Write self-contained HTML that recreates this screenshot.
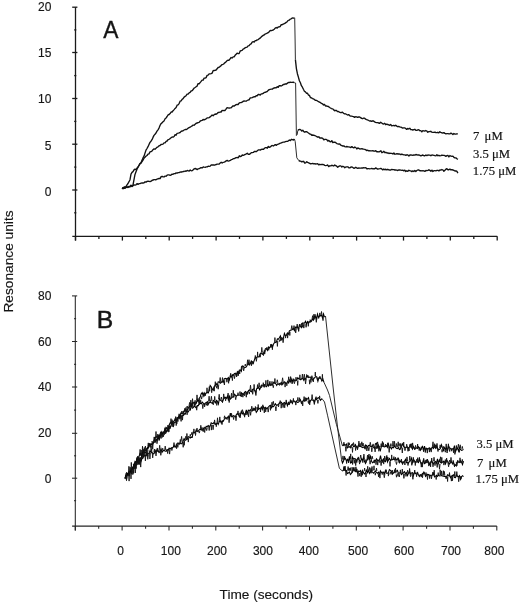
<!DOCTYPE html>
<html><head><meta charset="utf-8"><style>
html,body{margin:0;padding:0;background:#fff;}
svg{display:block;}
.ax path{stroke:#1a1a1a;stroke-width:1.3;fill:none;}
.cv path{stroke:#111;stroke-width:1.35;fill:none;stroke-linejoin:round;}
.cvb path{stroke:#000;stroke-width:1.1;fill:none;stroke-linejoin:miter;}
.dr path{stroke:#222;stroke-width:0.95;fill:none;}
.axb path{stroke:#262626;stroke-width:1.05;}
.spk path{stroke:#111;stroke-width:0.9;fill:none;stroke-linejoin:miter;}
.sans{font-family:"Liberation Sans",Arial,sans-serif;fill:#151515;stroke:#151515;stroke-width:0.15;}
.serif{font-family:"Liberation Serif","Times New Roman",serif;fill:#151515;stroke:#151515;stroke-width:0.2;}
</style></head><body>
<svg width="520" height="604" viewBox="0 0 520 604">
<rect width="520" height="604" fill="#fff"/>
<g class="ax">
<path d="M75.5 7.2V240.60000000000002M72.3 236.3H497.2" />
<path d="M72.2 7.2H77.4" />
<path d="M72.2 52.5H77.4" />
<path d="M72.2 98.5H77.4" />
<path d="M72.2 144.2H77.4" />
<path d="M72.2 190.0H77.4" />
<path d="M74.2 29.9H76.3" />
<path d="M74.2 75.6H76.3" />
<path d="M74.2 121.4H76.3" />
<path d="M74.2 167.1H76.3" />
<path d="M74.2 212.8H76.3" />
<path d="M75.5 236.3v4.3" />
<path d="M98.9 236.3v2.6" />
<path d="M122.4 236.3v4.3" />
<path d="M145.8 236.3v2.6" />
<path d="M169.2 236.3v4.3" />
<path d="M192.6 236.3v2.6" />
<path d="M216.1 236.3v4.3" />
<path d="M239.5 236.3v2.6" />
<path d="M262.9 236.3v4.3" />
<path d="M286.4 236.3v2.6" />
<path d="M309.8 236.3v4.3" />
<path d="M333.2 236.3v2.6" />
<path d="M356.6 236.3v4.3" />
<path d="M380.1 236.3v2.6" />
<path d="M403.5 236.3v4.3" />
<path d="M426.9 236.3v2.6" />
<path d="M450.3 236.3v4.3" />
<path d="M473.8 236.3v2.6" />
<path d="M497.2 236.3v4.3" />
</g>
<g class="ax axb">
<path d="M75.3 295.9V530.4M72.1 526.1H496.8" />
<path d="M72.0 295.9H77.2" />
<path d="M72.0 341.5H77.2" />
<path d="M72.0 387.0H77.2" />
<path d="M72.0 433.3H77.2" />
<path d="M72.0 478.2H77.2" />
<path d="M74.0 318.7H76.1" />
<path d="M74.0 364.3H76.1" />
<path d="M74.0 410.1H76.1" />
<path d="M74.0 455.8H76.1" />
<path d="M74.0 500.7H76.1" />
<path d="M75.3 526.1v4.3" />
<path d="M98.7 526.1v2.6" />
<path d="M122.1 526.1v4.3" />
<path d="M145.6 526.1v2.6" />
<path d="M169.0 526.1v4.3" />
<path d="M192.4 526.1v2.6" />
<path d="M215.8 526.1v4.3" />
<path d="M239.2 526.1v2.6" />
<path d="M262.6 526.1v4.3" />
<path d="M286.1 526.1v2.6" />
<path d="M309.5 526.1v4.3" />
<path d="M332.9 526.1v2.6" />
<path d="M356.3 526.1v4.3" />
<path d="M379.7 526.1v2.6" />
<path d="M403.1 526.1v4.3" />
<path d="M426.6 526.1v2.6" />
<path d="M450.0 526.1v4.3" />
<path d="M473.4 526.1v2.6" />
<path d="M496.8 526.1v4.3" />
</g>
<g class="cv">
<path d="M122.0 188.0L123.0 188.6L124.0 188.4L125.0 187.5L126.0 187.5L127.0 187.2L128.0 187.5L129.0 186.9L130.0 186.9L131.0 185.5L132.0 186.6L133.0 184.9L134.0 179.7L135.0 174.4L136.0 171.8L137.0 169.3L138.0 167.3L139.0 165.3L140.0 163.9L141.0 162.7L142.0 160.2L143.0 157.9L144.0 156.2L145.0 153.1L146.0 150.1L147.0 148.5L148.0 146.7L149.0 144.5L150.0 142.4L151.0 141.2L152.0 139.7L153.0 137.4L154.0 135.4L155.0 134.3L156.0 133.0L157.0 131.1L158.0 129.8L159.0 128.1L160.0 125.5L161.0 123.7L162.0 122.9L163.0 121.7L164.0 121.0L165.1 118.8L166.1 117.9L167.1 116.5L168.1 114.9L169.1 114.5L170.1 113.6L171.1 112.0L172.1 112.0L173.1 110.7L174.1 109.6L175.1 108.4L176.1 107.5L177.1 105.2L178.1 104.8L179.1 103.6L180.1 101.2L181.1 100.8L182.1 99.3L183.1 98.7L184.1 97.1L185.1 96.4L186.1 95.7L187.1 94.2L188.1 94.1L189.1 92.9L190.1 92.4L191.1 91.0L192.1 90.7L193.1 89.5L194.1 88.1L195.1 87.5L196.1 86.8L197.1 86.1L198.1 83.6L199.1 83.8L200.1 82.6L201.1 81.4L202.1 80.1L203.1 80.2L204.1 78.1L205.1 78.1L206.1 77.6L207.1 75.4L208.1 75.2L209.1 73.9L210.1 73.9L211.1 73.7L212.1 73.2L213.1 70.7L214.1 70.5L215.1 70.4L216.1 70.0L217.1 68.8L218.1 67.5L219.1 67.3L220.1 66.4L221.1 65.6L222.1 64.6L223.1 64.3L224.1 63.6L225.1 62.6L226.1 61.8L227.1 60.6L228.1 60.2L229.1 60.2L230.1 58.8L231.1 57.5L232.1 58.0L233.1 56.9L234.1 56.9L235.1 55.3L236.1 54.3L237.1 53.1L238.1 53.6L239.1 53.5L240.1 51.2L241.1 50.6L242.1 50.4L243.1 49.1L244.1 48.6L245.1 47.8L246.1 47.4L247.1 47.1L248.1 45.9L249.1 45.6L250.1 44.3L251.1 43.9L252.2 42.1L253.2 41.7L254.2 42.0L255.2 40.7L256.2 40.6L257.2 39.9L258.2 39.6L259.2 38.7L260.2 38.1L261.2 37.0L262.2 36.1L263.2 35.4L264.2 34.9L265.2 33.9L266.2 33.6L267.2 33.2L268.2 32.7L269.2 31.8L270.2 30.5L271.2 30.7L272.2 30.3L273.2 30.0L274.2 29.2L275.2 28.1L276.2 27.5L277.2 28.1L278.2 27.0L279.2 26.9L280.2 26.5L281.2 24.7L282.2 24.7L283.2 24.2L284.2 23.7L285.2 23.1L286.2 22.4L287.2 21.7L288.2 20.3L289.2 20.2L290.2 19.1L291.2 18.8L292.2 18.0L293.2 18.2L294.2 18.0M295.4 59.7L296.4 68.6L297.4 73.7L298.4 77.1L299.4 80.8L300.4 82.8L301.4 85.7L302.4 87.2L303.4 89.3L304.4 91.2L305.4 91.9L306.4 93.2L307.4 93.2L308.4 95.0L309.4 95.4L310.4 97.5L311.4 97.8L312.5 98.6L313.5 98.8L314.5 99.7L315.5 100.3L316.5 100.4L317.5 101.0L318.5 101.7L319.5 102.1L320.5 102.7L321.5 103.4L322.5 103.8L323.5 105.0L324.5 104.4L325.5 106.0L326.5 105.9L327.5 106.4L328.5 106.5L329.5 107.5L330.5 108.0L331.5 108.6L332.5 108.8L333.5 109.5L334.5 110.7L335.5 110.5L336.5 110.5L337.5 111.6L338.5 111.5L339.5 112.2L340.5 112.6L341.5 112.5L342.5 112.1L343.5 113.2L344.6 113.9L345.6 113.8L346.6 114.5L347.6 115.0L348.6 114.6L349.6 115.6L350.6 116.1L351.6 116.1L352.6 116.4L353.6 116.6L354.6 117.4L355.6 116.7L356.6 116.9L357.6 117.4L358.6 117.0L359.6 117.0L360.6 117.6L361.6 118.4L362.6 118.7L363.6 118.1L364.6 118.2L365.6 119.2L366.6 119.6L367.6 119.9L368.6 120.5L369.6 121.0L370.6 120.8L371.6 121.3L372.6 120.8L373.6 121.0L374.6 121.9L375.6 122.3L376.6 122.6L377.7 122.7L378.7 123.0L379.7 123.3L380.7 122.3L381.7 123.0L382.7 123.8L383.7 124.0L384.7 123.3L385.7 124.7L386.7 124.2L387.7 124.5L388.7 124.9L389.7 125.3L390.7 124.5L391.7 125.8L392.7 125.6L393.7 125.4L394.7 125.9L395.7 125.2L396.7 126.1L397.7 126.7L398.7 126.5L399.7 126.9L400.7 127.2L401.7 127.5L402.7 128.1L403.7 127.8L404.7 127.9L405.7 128.5L406.7 129.4L407.7 128.4L408.7 129.0L409.8 128.2L410.8 129.7L411.8 129.6L412.8 130.0L413.8 129.6L414.8 129.3L415.8 130.3L416.8 130.4L417.8 129.8L418.8 129.7L419.8 130.7L420.8 130.6L421.8 131.9L422.8 130.6L423.8 130.8L424.8 131.1L425.8 130.5L426.8 131.0L427.8 132.3L428.8 131.6L429.8 131.5L430.8 131.3L431.8 132.2L432.8 132.4L433.8 132.3L434.8 132.1L435.8 132.5L436.8 132.6L437.8 132.3L438.8 132.9L439.8 131.8L440.8 132.3L441.9 132.8L442.9 133.0L443.9 132.6L444.9 133.4L445.9 133.8L446.9 133.6L447.9 133.6L448.9 133.9L449.9 133.8L450.9 133.2L451.9 133.7L452.9 134.5L453.9 133.5L454.9 134.1L455.9 134.0L456.9 133.8L457.9 133.8" />
<path d="M122.0 188.0L123.0 188.6L124.0 187.0L125.0 188.4L126.0 186.6L127.0 184.8L128.0 183.5L129.0 181.7L130.0 179.7L131.0 174.1L132.0 172.4L133.0 171.6L134.0 169.9L135.0 169.1L136.0 169.6L137.0 168.0L138.0 167.1L139.0 165.5L140.0 163.4L141.0 163.2L142.0 161.6L143.0 160.1L144.0 158.2L145.0 157.3L146.0 156.1L147.0 155.5L148.0 154.1L149.0 153.9L150.0 151.9L151.0 151.7L152.0 151.0L153.0 149.7L154.0 148.9L155.0 149.2L156.0 148.3L157.0 147.3L158.0 146.9L159.0 145.8L160.0 145.5L161.0 144.5L162.0 144.3L163.0 144.1L164.0 142.9L165.1 142.8L166.1 141.3L167.1 141.0L168.1 139.6L169.1 139.3L170.1 138.6L171.1 137.7L172.1 137.0L173.1 137.1L174.1 136.5L175.1 134.7L176.1 135.2L177.1 133.3L178.1 133.2L179.1 132.9L180.1 132.5L181.1 131.4L182.1 131.0L183.1 130.8L184.1 130.0L185.1 129.5L186.1 129.5L187.1 129.1L188.1 128.2L189.1 127.7L190.1 127.2L191.1 126.5L192.1 125.9L193.1 125.1L194.1 125.2L195.1 124.2L196.1 123.4L197.1 123.0L198.1 122.6L199.1 122.4L200.1 121.2L201.1 120.6L202.1 120.4L203.1 119.4L204.1 119.9L205.1 119.3L206.1 118.8L207.1 117.9L208.1 117.9L209.1 117.6L210.1 116.9L211.1 116.0L212.1 115.0L213.1 115.7L214.1 114.7L215.1 114.0L216.1 114.3L217.1 113.6L218.1 112.4L219.1 112.5L220.1 112.0L221.1 112.1L222.1 110.4L223.1 110.6L224.1 110.3L225.1 110.5L226.1 109.0L227.1 107.7L228.1 107.9L229.1 108.2L230.1 107.9L231.1 107.9L232.1 106.8L233.1 105.8L234.1 106.1L235.1 105.3L236.1 104.7L237.1 104.4L238.1 104.5L239.1 103.1L240.1 102.6L241.1 102.6L242.1 102.2L243.1 101.4L244.1 101.0L245.1 101.1L246.1 101.2L247.1 100.5L248.1 100.0L249.1 99.9L250.1 98.0L251.1 97.8L252.2 97.7L253.2 97.1L254.2 96.7L255.2 96.8L256.2 95.7L257.2 95.7L258.2 94.5L259.2 94.5L260.2 95.1L261.2 93.8L262.2 93.8L263.2 93.4L264.2 92.4L265.2 92.4L266.2 91.8L267.2 91.5L268.2 90.4L269.2 89.6L270.2 89.3L271.2 89.1L272.2 89.2L273.2 88.4L274.2 88.0L275.2 87.7L276.2 87.9L277.2 86.7L278.2 87.3L279.2 85.7L280.2 85.7L281.2 86.0L282.2 85.5L283.2 84.5L284.2 84.5L285.2 83.8L286.2 84.1L287.2 83.4L288.2 82.4L289.2 82.6L290.2 82.1L291.2 82.3L292.2 82.4L293.2 82.1L294.2 82.7M297.8 130.5L298.8 129.6L299.8 129.4L300.8 129.8L301.8 131.1L302.8 130.2L303.8 131.7L304.8 132.2L305.8 131.7L306.8 131.7L307.8 132.5L308.8 133.2L309.8 134.1L310.8 134.2L311.8 135.3L312.8 135.0L313.8 135.4L314.8 135.5L315.8 136.0L316.8 136.7L317.8 137.2L318.8 136.8L319.8 138.0L320.8 137.9L321.8 138.0L322.8 138.3L323.8 139.9L324.8 139.4L325.8 139.3L326.8 139.6L327.8 141.1L328.8 140.4L329.8 141.5L330.8 141.9L331.8 140.6L332.8 142.6L333.8 142.2L334.8 142.2L335.8 142.7L336.8 143.6L337.8 143.8L338.8 144.2L339.8 144.0L340.8 145.2L341.8 145.6L342.8 146.0L343.8 145.9L344.8 146.6L345.8 146.9L346.8 146.5L347.8 146.9L348.8 146.9L349.8 147.2L350.8 147.5L351.8 146.6L352.8 147.4L353.8 147.9L354.8 147.0L355.8 147.5L356.8 149.0L357.8 148.0L358.8 148.4L359.8 149.0L360.8 148.8L361.8 148.7L362.8 149.0L363.8 149.2L364.8 149.3L365.8 149.8L366.8 150.6L367.8 150.2L368.8 150.9L369.8 150.7L370.8 150.8L371.8 150.9L372.8 150.6L373.8 151.1L374.8 151.2L375.8 150.7L376.8 151.7L377.9 151.7L378.9 151.8L379.9 151.5L380.9 150.7L381.9 152.7L382.9 152.1L383.9 151.3L384.9 152.7L385.9 152.3L386.9 153.0L387.9 152.8L388.9 153.5L389.9 153.2L390.9 153.3L391.9 153.4L392.9 154.0L393.9 153.0L394.9 154.2L395.9 154.1L396.9 153.6L397.9 154.0L398.9 153.8L399.9 154.2L400.9 154.7L401.9 154.0L402.9 154.7L403.9 154.9L404.9 154.9L405.9 155.4L406.9 154.7L407.9 155.1L408.9 156.0L409.9 155.0L410.9 154.9L411.9 155.1L412.9 155.4L413.9 154.9L414.9 155.1L415.9 154.5L416.9 154.9L417.9 155.0L418.9 154.9L419.9 155.3L420.9 155.9L421.9 155.4L422.9 155.0L423.9 155.7L424.9 155.7L425.9 155.0L426.9 155.6L427.9 155.0L428.9 155.2L429.9 155.1L430.9 155.8L431.9 155.0L432.9 155.2L433.9 155.4L434.9 155.7L435.9 155.8L436.9 154.7L437.9 155.7L438.9 155.3L439.9 155.8L440.9 155.7L441.9 155.1L442.9 155.4L443.9 155.3L444.9 155.7L445.9 156.3L446.9 155.7L447.9 155.4L448.9 157.0L449.9 155.5L450.9 156.2L451.9 156.4L452.9 156.1L453.9 157.3L454.9 157.9L455.9 157.9L456.9 158.7L457.9 159.4" />
<path d="M122.0 188.0L123.0 187.9L124.0 187.8L125.0 186.8L126.0 187.3L127.0 186.8L128.0 186.8L129.0 186.4L130.0 186.5L131.0 185.3L132.0 186.3L133.0 185.8L134.0 184.8L135.0 185.1L136.0 184.8L137.0 183.6L138.0 184.4L139.0 183.7L140.0 183.6L141.0 183.2L142.0 183.0L143.0 183.0L144.1 182.8L145.1 181.8L146.1 182.1L147.1 181.4L148.1 181.2L149.1 181.3L150.1 181.6L151.1 181.2L152.1 180.4L153.1 180.0L154.1 179.6L155.1 179.7L156.1 179.7L157.1 179.0L158.1 178.9L159.1 178.4L160.1 178.6L161.1 176.6L162.1 176.3L163.1 176.8L164.1 176.9L165.1 176.1L166.1 176.2L167.1 175.2L168.1 174.9L169.1 174.9L170.1 175.3L171.1 175.0L172.1 174.1L173.1 174.3L174.1 173.6L175.1 173.7L176.1 172.9L177.1 173.1L178.1 172.6L179.1 172.6L180.1 172.1L181.1 171.8L182.1 172.0L183.1 171.5L184.1 171.5L185.1 171.0L186.1 171.3L187.2 170.4L188.2 170.9L189.2 171.0L190.2 170.0L191.2 170.8L192.2 170.7L193.2 169.8L194.2 168.8L195.2 168.5L196.2 168.9L197.2 169.6L198.2 168.8L199.2 168.7L200.2 168.0L201.2 167.6L202.2 167.9L203.2 167.0L204.2 167.2L205.2 167.3L206.2 166.9L207.2 166.9L208.2 166.2L209.2 166.4L210.2 166.1L211.2 164.9L212.2 165.0L213.2 164.8L214.2 165.2L215.2 164.8L216.2 164.5L217.2 164.2L218.2 164.1L219.2 164.0L220.2 163.0L221.2 162.2L222.2 163.0L223.2 162.3L224.2 162.1L225.2 161.6L226.2 160.9L227.2 160.4L228.2 161.1L229.2 160.8L230.3 160.4L231.3 159.7L232.3 159.4L233.3 158.7L234.3 158.6L235.3 158.0L236.3 157.6L237.3 157.5L238.3 157.8L239.3 155.8L240.3 156.6L241.3 156.2L242.3 155.0L243.3 155.3L244.3 154.9L245.3 154.3L246.3 153.9L247.3 153.2L248.3 154.3L249.3 154.3L250.3 153.7L251.3 152.6L252.3 152.6L253.3 152.4L254.3 151.5L255.3 151.5L256.3 151.6L257.3 150.8L258.3 149.9L259.3 149.8L260.3 150.1L261.3 149.4L262.3 149.1L263.3 149.4L264.3 148.4L265.3 147.7L266.3 147.6L267.3 148.2L268.3 146.4L269.3 147.4L270.3 146.9L271.3 145.9L272.3 145.5L273.4 146.0L274.4 145.2L275.4 144.6L276.4 145.4L277.4 144.3L278.4 144.1L279.4 143.6L280.4 143.1L281.4 142.9L282.4 142.3L283.4 142.2L284.4 142.1L285.4 141.7L286.4 141.4L287.4 141.3L288.4 140.8L289.4 140.0L290.4 140.6L291.4 139.3L292.4 139.6L293.4 140.0L294.4 139.0M298.7 160.4L299.7 161.1L300.7 161.2L301.7 161.8L302.7 161.5L303.7 161.3L304.7 163.1L305.7 162.8L306.7 161.8L307.7 162.4L308.7 162.8L309.7 163.3L310.7 163.9L311.7 163.6L312.7 163.4L313.7 163.9L314.7 163.7L315.7 164.0L316.7 163.8L317.7 163.7L318.7 164.9L319.7 164.3L320.7 164.6L321.7 164.4L322.7 164.5L323.7 164.7L324.7 165.3L325.7 165.6L326.7 165.4L327.7 165.0L328.7 166.6L329.7 165.8L330.7 165.9L331.7 165.3L332.7 165.5L333.7 166.0L334.7 165.0L335.7 165.6L336.7 166.2L337.7 167.2L338.8 166.4L339.8 165.9L340.8 165.9L341.8 167.0L342.8 166.3L343.8 166.6L344.8 167.7L345.8 167.0L346.8 166.9L347.8 166.8L348.8 167.8L349.8 167.9L350.8 167.1L351.8 166.9L352.8 167.5L353.8 168.3L354.8 168.0L355.8 167.3L356.8 168.0L357.8 168.3L358.8 168.0L359.8 168.2L360.8 168.1L361.8 168.0L362.8 168.0L363.8 167.7L364.8 167.8L365.8 167.6L366.8 168.7L367.8 168.7L368.8 168.6L369.8 168.8L370.8 168.7L371.8 168.4L372.8 168.8L373.8 168.7L374.8 168.7L375.8 167.9L376.8 168.7L377.8 169.2L378.8 168.9L379.8 168.7L380.8 168.4L381.8 168.9L382.8 169.9L383.8 169.0L384.8 169.8L385.8 169.2L386.8 169.9L387.8 169.3L388.8 169.8L389.8 170.0L390.8 170.0L391.8 169.4L392.8 169.7L393.8 169.6L394.8 170.0L395.8 170.0L396.8 170.1L397.8 170.5L398.8 169.9L399.8 170.0L400.8 170.2L401.8 170.4L402.8 170.2L403.8 170.8L404.8 170.2L405.8 171.5L406.8 170.8L407.8 171.3L408.8 170.3L409.8 170.7L410.8 170.9L411.8 171.6L412.8 170.9L413.8 171.5L414.8 170.5L415.8 171.5L416.8 170.5L417.8 170.0L418.9 169.9L419.9 170.8L420.9 170.6L421.9 170.8L422.9 170.7L423.9 170.9L424.9 171.4L425.9 170.5L426.9 170.7L427.9 170.4L428.9 169.8L429.9 170.4L430.9 171.2L431.9 170.1L432.9 171.5L433.9 170.7L434.9 170.6L435.9 170.8L436.9 170.4L437.9 170.3L438.9 170.9L439.9 169.9L440.9 170.1L441.9 169.5L442.9 170.0L443.9 171.2L444.9 170.3L445.9 169.2L446.9 168.7L447.9 169.7L448.9 169.7L449.9 169.1L450.9 169.9L451.9 169.6L452.9 170.0L453.9 170.4L454.9 171.0L455.9 170.8L456.9 171.4L457.9 173.2" />
</g>
<g class="cvb">
<path d="M125.0 478.5L126.0 474.2L127.0 476.0L128.0 474.5L129.0 471.6L130.0 470.9L131.0 471.1L132.0 468.7L133.0 466.7L134.0 465.2L135.0 461.6L136.0 462.5L137.0 457.7L138.0 458.0L139.0 456.5L140.0 453.5L141.0 454.4L142.0 455.6L143.0 451.9L144.0 449.7L145.1 450.1L146.1 450.3L147.1 448.3L148.1 446.9L149.1 444.0L150.1 445.3L151.1 444.3L152.1 444.4L153.1 443.6L154.1 441.6L155.1 437.7L156.1 437.1L157.1 436.6L158.1 437.4L159.1 435.1L160.1 436.9L161.1 434.6L162.1 433.8L163.1 433.3L164.1 431.7L165.1 428.5L166.1 432.4L167.1 430.1L168.1 429.2L169.1 425.2L170.1 422.8L171.1 422.3L172.1 421.9L173.1 423.4L174.1 422.4L175.1 422.2L176.1 422.1L177.1 418.9L178.1 417.7L179.1 415.8L180.1 414.8L181.1 412.8L182.1 414.0L183.1 412.8L184.1 410.9L185.2 409.4L186.2 410.1L187.2 410.3L188.2 407.8L189.2 407.2L190.2 405.2L191.2 404.8L192.2 403.9L193.2 403.2L194.2 402.2L195.2 402.9L196.2 403.4L197.2 399.7L198.2 401.8L199.2 398.2L200.2 397.0L201.2 393.8L202.2 392.6L203.2 395.9L204.2 392.8L205.2 394.6L206.2 392.9L207.2 392.4L208.2 393.0L209.2 390.4L210.2 385.5L211.2 386.7L212.2 389.5L213.2 390.1L214.2 386.7L215.2 385.2L216.2 383.7L217.2 385.6L218.2 381.9L219.2 382.0L220.2 383.2L221.2 382.5L222.2 381.4L223.2 382.5L224.2 378.9L225.3 378.4L226.3 378.8L227.3 378.8L228.3 377.6L229.3 380.0L230.3 376.0L231.3 377.0L232.3 374.8L233.3 375.3L234.3 373.7L235.3 373.2L236.3 375.2L237.3 372.0L238.3 374.0L239.3 370.2L240.3 369.9L241.3 371.3L242.3 365.9L243.3 366.2L244.3 367.7L245.3 367.5L246.3 366.9L247.3 365.0L248.3 362.8L249.3 365.0L250.3 363.7L251.3 360.9L252.3 361.8L253.3 363.2L254.3 360.2L255.3 357.7L256.3 357.8L257.3 356.9L258.3 356.9L259.3 356.8L260.3 353.5L261.3 353.0L262.3 354.4L263.3 353.2L264.3 353.2L265.4 348.7L266.4 348.6L267.4 350.4L268.4 347.0L269.4 347.9L270.4 346.6L271.4 344.9L272.4 347.0L273.4 344.2L274.4 342.8L275.4 342.4L276.4 342.1L277.4 338.9L278.4 339.1L279.4 337.8L280.4 335.9L281.4 339.3L282.4 339.1L283.4 338.1L284.4 333.5L285.4 335.6L286.4 335.3L287.4 333.0L288.4 334.1L289.4 330.9L290.4 330.3L291.4 330.0L292.4 329.5L293.4 328.5L294.4 330.5L295.4 327.2L296.4 327.4L297.4 326.6L298.4 329.8L299.4 325.1L300.4 326.4L301.4 327.6L302.4 323.1L303.4 323.1L304.4 323.2L305.5 321.4L306.5 324.3L307.5 321.6L308.5 323.1L309.5 321.9L310.5 320.7L311.5 321.3L312.5 319.0L313.5 320.1L314.5 316.4L315.5 316.6L316.5 318.7L317.5 314.1L318.5 317.3L319.5 315.9L320.5 315.6L321.5 315.3L322.5 317.8L323.5 314.0L324.5 317.1M341.5 459.5L342.5 463.0L343.5 461.0L344.5 457.8L345.5 458.6L346.5 460.9L347.5 459.4L348.5 461.4L349.5 456.4L350.5 462.9L351.5 462.5L352.5 457.2L353.5 459.0L354.5 458.5L355.5 458.9L356.5 461.1L357.5 458.7L358.5 458.1L359.5 460.7L360.5 461.8L361.5 458.9L362.5 460.1L363.5 457.3L364.5 461.3L365.5 463.4L366.5 460.7L367.5 459.6L368.5 456.4L369.5 459.3L370.5 456.4L371.5 461.1L372.5 462.8L373.5 462.2L374.5 460.2L375.5 460.8L376.5 458.9L377.5 460.4L378.5 460.4L379.5 460.1L380.5 455.7L381.5 460.6L382.5 460.9L383.5 459.0L384.5 461.0L385.5 461.6L386.5 456.8L387.5 461.9L388.5 459.5L389.5 458.5L390.5 460.7L391.5 459.2L392.5 459.7L393.5 458.9L394.5 459.5L395.5 458.7L396.5 459.7L397.5 459.0L398.5 458.6L399.5 462.6L400.5 461.0L401.5 461.7L402.5 463.9L403.5 462.2L404.5 461.2L405.5 459.4L406.5 462.6L407.5 462.1L408.5 463.1L409.5 461.3L410.5 460.9L411.5 458.1L412.5 462.5L413.5 459.1L414.5 460.9L415.5 462.6L416.5 461.9L417.5 461.7L418.5 462.6L419.5 459.0L420.5 462.0L421.5 464.0L422.5 463.9L423.5 459.5L424.5 463.6L425.5 462.8L426.5 460.5L427.5 459.9L428.5 461.9L429.5 464.5L430.5 463.0L431.5 460.6L432.5 462.4L433.5 464.0L434.5 462.1L435.5 461.5L436.5 463.1L437.5 458.9L438.5 463.1L439.5 460.1L440.5 462.3L441.5 463.0L442.5 462.2L443.5 461.2L444.5 461.9L445.5 463.9L446.5 460.3L447.5 461.1L448.5 463.1L449.5 463.9L450.5 462.6L451.5 461.8L452.5 463.8L453.5 462.1L454.5 466.1L455.5 464.9L456.5 465.9L457.5 461.2L458.5 462.0L459.5 462.4L460.5 460.8L461.5 462.0L462.5 464.5L463.5 461.2" />
<path d="M125.0 478.5L126.0 476.4L127.0 473.2L128.0 473.5L129.0 475.4L130.0 472.1L131.0 470.0L132.0 469.2L133.0 467.9L134.0 467.4L135.0 464.7L136.1 464.8L137.1 461.0L138.1 460.3L139.1 458.3L140.1 457.7L141.1 459.1L142.1 453.1L143.1 452.1L144.1 452.1L145.1 453.4L146.1 451.1L147.1 448.4L148.1 448.5L149.1 445.4L150.1 444.5L151.1 443.9L152.1 444.5L153.1 442.4L154.1 441.8L155.1 442.4L156.1 439.2L157.1 440.5L158.2 436.3L159.2 439.5L160.2 433.6L161.2 431.7L162.2 433.7L163.2 432.2L164.2 432.5L165.2 431.6L166.2 427.5L167.2 428.5L168.2 430.9L169.2 426.1L170.2 427.9L171.2 424.8L172.2 423.3L173.2 421.4L174.2 421.0L175.2 418.8L176.2 422.1L177.2 418.9L178.2 417.2L179.2 418.5L180.2 415.0L181.3 416.3L182.3 415.7L183.3 415.2L184.3 413.6L185.3 414.1L186.3 411.3L187.3 411.7L188.3 411.9L189.3 409.8L190.3 410.0L191.3 404.7L192.3 408.2L193.3 407.6L194.3 406.0L195.3 407.0L196.3 407.9L197.3 405.6L198.3 405.6L199.3 403.8L200.3 403.3L201.3 403.8L202.3 402.1L203.4 403.4L204.4 404.4L205.4 402.9L206.4 402.6L207.4 401.7L208.4 404.1L209.4 402.5L210.4 402.5L211.4 402.7L212.4 403.4L213.4 400.5L214.4 401.0L215.4 402.8L216.4 400.5L217.4 401.4L218.4 404.0L219.4 398.7L220.4 400.4L221.4 400.8L222.4 401.7L223.4 399.3L224.4 397.4L225.5 397.4L226.5 398.4L227.5 396.1L228.5 400.7L229.5 396.4L230.5 399.0L231.5 397.9L232.5 396.8L233.5 397.0L234.5 394.2L235.5 395.3L236.5 396.1L237.5 395.2L238.5 395.3L239.5 394.8L240.5 395.7L241.5 392.8L242.5 393.8L243.5 394.5L244.5 392.4L245.5 391.6L246.5 393.1L247.6 392.8L248.6 390.5L249.6 390.0L250.6 391.3L251.6 391.8L252.6 389.3L253.6 388.9L254.6 390.4L255.6 393.0L256.6 388.8L257.6 388.2L258.6 387.3L259.6 389.6L260.6 387.4L261.6 385.1L262.6 385.2L263.6 385.0L264.6 385.8L265.6 386.0L266.6 386.7L267.6 384.2L268.6 385.9L269.7 383.1L270.7 385.4L271.7 384.6L272.7 384.8L273.7 382.2L274.7 382.8L275.7 383.5L276.7 385.4L277.7 383.8L278.7 384.3L279.7 383.4L280.7 384.1L281.7 382.5L282.7 384.4L283.7 382.6L284.7 381.8L285.7 383.5L286.7 383.2L287.7 381.3L288.7 382.9L289.7 380.1L290.8 382.1L291.8 378.9L292.8 381.8L293.8 379.2L294.8 380.7L295.8 380.7L296.8 380.0L297.8 377.7L298.8 378.9L299.8 379.1L300.8 379.7L301.8 378.6L302.8 378.2L303.8 380.3L304.8 378.4L305.8 379.4L306.8 375.1L307.8 376.6L308.8 377.5L309.8 377.1L310.8 377.2L311.8 379.2L312.8 380.2L313.9 378.5L314.9 377.3L315.9 376.5L316.9 377.2L317.9 381.1L318.9 377.8L319.9 377.6L320.9 378.5L321.9 381.0L322.9 379.2L323.9 382.1M342.4 445.8L343.4 444.8L344.4 444.3L345.4 445.3L346.4 444.2L347.4 447.9L348.4 447.1L349.4 446.7L350.4 447.8L351.4 445.0L352.4 444.1L353.4 446.4L354.4 446.4L355.4 444.7L356.4 446.7L357.4 448.0L358.4 445.2L359.4 446.3L360.4 446.5L361.4 446.7L362.4 447.5L363.4 446.9L364.4 448.0L365.4 445.0L366.4 445.5L367.4 447.3L368.4 445.6L369.4 445.4L370.4 446.2L371.4 446.7L372.4 445.6L373.4 447.1L374.4 448.3L375.4 443.9L376.4 443.2L377.4 447.5L378.4 445.3L379.4 448.5L380.4 450.5L381.4 446.3L382.4 446.0L383.4 446.6L384.4 447.0L385.4 446.6L386.4 445.5L387.4 447.4L388.4 444.0L389.4 447.4L390.4 447.0L391.4 448.8L392.4 447.2L393.4 447.7L394.4 445.8L395.4 447.4L396.4 448.2L397.4 448.6L398.4 447.4L399.4 449.5L400.4 449.1L401.4 446.4L402.4 443.9L403.5 445.9L404.5 447.6L405.5 447.7L406.5 447.1L407.5 447.0L408.5 448.5L409.5 446.8L410.5 444.7L411.5 447.3L412.5 449.2L413.5 446.6L414.5 448.7L415.5 448.7L416.5 447.9L417.5 448.5L418.5 446.7L419.5 448.1L420.5 450.1L421.5 447.9L422.5 446.5L423.5 450.1L424.5 446.2L425.5 450.5L426.5 448.3L427.5 449.1L428.5 448.7L429.5 448.3L430.5 449.8L431.5 448.2L432.5 447.2L433.5 448.4L434.5 445.9L435.5 448.2L436.5 445.9L437.5 448.5L438.5 449.5L439.5 449.4L440.5 448.3L441.5 444.8L442.5 447.9L443.5 450.4L444.5 447.7L445.5 449.4L446.5 447.7L447.5 450.9L448.5 445.8L449.5 448.0L450.5 448.2L451.5 449.5L452.5 448.8L453.5 449.0L454.5 445.6L455.5 451.6L456.5 449.2L457.5 448.0L458.5 450.9L459.5 447.4L460.5 449.4L461.5 450.4L462.5 450.1L463.5 449.4" />
<path d="M125.0 478.5L126.0 475.6L127.0 474.4L128.0 474.3L129.0 474.5L130.0 471.2L131.0 472.8L132.0 470.3L133.0 469.4L134.0 467.2L135.0 466.2L136.0 464.8L137.0 459.4L138.0 463.6L139.0 461.5L140.0 459.5L141.0 461.2L142.0 458.5L143.0 458.1L144.0 455.0L145.1 456.0L146.1 454.7L147.1 453.5L148.1 454.2L149.1 453.2L150.1 450.4L151.1 452.6L152.1 452.6L153.1 453.8L154.1 453.6L155.1 450.3L156.1 452.5L157.1 448.9L158.1 450.9L159.1 452.5L160.1 451.5L161.1 449.0L162.1 452.3L163.1 450.7L164.1 450.4L165.1 450.9L166.1 451.3L167.1 449.6L168.1 450.2L169.1 448.2L170.1 448.6L171.1 448.2L172.1 447.9L173.1 447.3L174.1 445.4L175.1 447.3L176.1 445.9L177.1 443.4L178.1 442.9L179.1 444.3L180.1 442.9L181.1 443.9L182.1 443.4L183.1 440.9L184.1 438.7L185.2 440.3L186.2 439.7L187.2 439.3L188.2 436.7L189.2 436.9L190.2 438.0L191.2 437.2L192.2 437.4L193.2 432.3L194.2 432.6L195.2 432.9L196.2 429.9L197.2 431.2L198.2 431.2L199.2 429.8L200.2 429.2L201.2 429.7L202.2 430.2L203.2 429.3L204.2 427.4L205.2 428.5L206.2 426.4L207.2 426.6L208.2 425.6L209.2 426.5L210.2 425.9L211.2 422.9L212.2 423.5L213.2 423.4L214.2 422.4L215.2 424.5L216.2 424.1L217.2 422.5L218.2 424.4L219.2 421.9L220.2 420.8L221.2 422.9L222.2 420.7L223.2 421.2L224.3 419.2L225.3 417.7L226.3 418.3L227.3 418.0L228.3 416.2L229.3 418.7L230.3 413.2L231.3 416.7L232.3 416.7L233.3 415.7L234.3 415.9L235.3 417.0L236.3 414.7L237.3 413.5L238.3 414.0L239.3 416.6L240.3 415.7L241.3 411.3L242.3 413.9L243.3 412.4L244.3 415.6L245.3 414.1L246.3 409.8L247.3 413.6L248.3 410.2L249.3 411.0L250.3 409.6L251.3 411.0L252.3 410.9L253.3 409.3L254.3 409.8L255.3 409.0L256.3 412.4L257.3 411.1L258.3 408.3L259.3 408.2L260.3 409.0L261.3 407.1L262.3 409.6L263.4 406.8L264.4 408.4L265.4 407.3L266.4 408.8L267.4 408.3L268.4 407.0L269.4 405.9L270.4 405.3L271.4 407.8L272.4 406.4L273.4 406.6L274.4 405.4L275.4 403.8L276.4 405.4L277.4 405.0L278.4 404.6L279.4 402.9L280.4 403.1L281.4 402.4L282.4 404.1L283.4 403.2L284.4 402.5L285.4 403.9L286.4 402.3L287.4 405.6L288.4 402.6L289.4 404.1L290.4 401.2L291.4 401.7L292.4 403.4L293.4 400.5L294.4 401.1L295.4 402.6L296.4 401.0L297.4 402.5L298.4 402.3L299.4 401.2L300.4 399.9L301.4 402.5L302.4 402.1L303.5 400.2L304.5 401.0L305.5 400.8L306.5 399.7L307.5 398.8L308.5 397.7L309.5 402.4L310.5 400.7L311.5 399.6L312.5 400.1L313.5 400.1L314.5 402.8L315.5 398.5L316.5 399.6L317.5 398.2L318.5 397.6L319.5 398.6L320.5 400.3L321.5 399.0L322.5 399.3M342.4 471.0L343.4 470.1L344.4 467.7L345.4 470.8L346.4 470.5L347.4 473.5L348.4 473.1L349.4 472.0L350.4 474.5L351.4 473.4L352.4 471.9L353.4 468.4L354.4 470.0L355.4 471.5L356.4 469.7L357.4 472.8L358.4 471.0L359.4 471.6L360.4 470.6L361.4 473.8L362.4 470.5L363.4 472.4L364.4 473.9L365.4 473.1L366.4 470.2L367.4 472.6L368.4 470.4L369.4 473.4L370.4 471.6L371.4 470.7L372.4 472.0L373.4 473.1L374.4 472.1L375.4 471.1L376.4 472.4L377.4 473.2L378.4 472.2L379.4 474.5L380.4 470.9L381.4 472.6L382.4 472.3L383.4 472.2L384.4 473.9L385.4 470.7L386.4 473.2L387.4 473.2L388.4 472.7L389.4 469.6L390.4 470.4L391.4 471.5L392.4 474.2L393.4 473.0L394.4 472.1L395.4 471.2L396.4 471.3L397.4 470.5L398.4 473.2L399.4 473.2L400.4 472.3L401.4 474.5L402.4 473.5L403.5 472.6L404.5 471.6L405.5 473.7L406.5 472.8L407.5 475.5L408.5 473.3L409.5 471.4L410.5 474.2L411.5 472.9L412.5 472.6L413.5 475.4L414.5 472.1L415.5 473.6L416.5 473.0L417.5 473.3L418.5 475.0L419.5 476.1L420.5 474.7L421.5 475.6L422.5 473.7L423.5 472.9L424.5 472.8L425.5 476.2L426.5 474.9L427.5 474.4L428.5 474.5L429.5 476.2L430.5 475.4L431.5 475.2L432.5 474.8L433.5 473.2L434.5 476.9L435.5 476.1L436.5 475.2L437.5 476.3L438.5 475.1L439.5 476.0L440.5 475.8L441.5 475.5L442.5 475.9L443.5 476.2L444.5 476.4L445.5 476.5L446.5 477.1L447.5 474.8L448.5 475.4L449.5 474.9L450.5 477.6L451.5 476.2L452.5 475.5L453.5 474.8L454.5 477.6L455.5 477.7L456.5 474.8L457.5 476.3L458.5 476.9L459.5 475.7L460.5 479.3L461.5 476.7L462.5 475.7L463.5 476.6" />
</g>
<g class="spk">
<path d="M126.0 476.6L126.5 479.4L127.0 476.6M128.6 471.8L129.0 476.1L129.5 471.8M129.8 470.1L130.1 467.1L130.5 470.1M131.1 468.1L131.6 474.2L132.1 468.1M133.4 464.1L133.7 468.0L134.0 464.1M134.2 463.0L134.8 469.0L135.5 463.0M135.6 461.3L136.1 468.6L136.5 461.3M138.0 457.5L138.7 464.4L139.3 457.5M139.7 455.4L140.1 449.4L140.5 455.4M142.2 452.2L142.5 446.2L142.8 452.2M143.4 450.4L144.1 456.3L144.7 450.4M146.1 448.9L146.7 456.0L147.2 448.9M147.8 446.5L148.3 442.9L148.7 446.5M149.5 444.4L150.2 447.5L150.8 444.4M151.9 441.0L152.4 445.3L153.0 441.0M153.5 441.2L154.2 436.9L154.9 441.2M155.6 437.8L156.0 431.5L156.4 437.8M157.0 437.7L157.7 434.2L158.3 437.7M158.6 435.5L159.1 440.6L159.6 435.5M160.7 432.9L161.1 438.5L161.5 432.9M162.9 431.5L163.5 436.7L164.1 431.5M164.7 430.9L165.1 427.8L165.5 430.9M167.0 427.4L167.3 431.5L167.6 427.4M168.5 426.5L168.9 431.9L169.4 426.5M170.5 424.1L171.0 418.6L171.5 424.1M171.5 423.9L172.1 419.7L172.6 423.9M172.9 422.8L173.4 427.1L173.8 422.8M175.1 419.4L175.7 416.6L176.2 419.4M176.3 418.5L176.8 423.9L177.4 418.5M177.4 417.6L177.9 421.6L178.3 417.6M179.7 415.2L180.1 418.7L180.5 415.2M181.4 413.8L181.9 411.0L182.5 413.8M183.1 411.4L183.6 415.8L184.0 411.4M185.6 411.0L186.0 407.4L186.3 411.0M186.9 408.4L187.2 406.0L187.5 408.4M188.9 406.8L189.6 402.4L190.3 406.8M190.3 405.4L190.8 400.1L191.4 405.4M191.9 404.2L192.5 398.7L193.1 404.2M194.3 402.8L194.6 405.6L195.0 402.8M196.7 400.2L197.0 394.9L197.4 400.2M199.1 398.3L199.5 403.6L199.9 398.3M201.0 396.2L201.6 399.1L202.2 396.2M203.5 392.9L204.2 396.4L204.9 392.9M205.0 393.5L205.3 395.7L205.7 393.5M206.7 392.9L207.0 387.8L207.4 392.9M208.8 391.2L209.3 386.6L209.8 391.2M211.2 387.9L211.7 392.7L212.2 387.9M213.8 386.7L214.2 391.2L214.6 386.7M214.9 386.5L215.3 381.7L215.8 386.5M216.3 386.1L216.7 388.2L217.1 386.1M217.6 384.4L218.2 389.2L218.8 384.4M219.5 382.7L220.2 377.5L220.8 382.7M221.9 382.2L222.5 377.6L223.0 382.2M224.0 380.3L224.4 385.0L224.8 380.3M226.3 378.4L226.9 382.2L227.5 378.4M228.3 378.3L228.6 383.3L228.9 378.3M230.2 376.4L230.7 373.3L231.1 376.4M231.8 376.0L232.4 380.6L232.9 376.0M233.8 374.3L234.5 378.6L235.2 374.3M236.2 373.2L236.6 377.0L237.1 373.2M237.5 371.1L238.1 376.0L238.6 371.1M239.3 371.1L239.7 374.0L240.0 371.1M241.1 369.8L241.5 366.2L241.8 369.8M243.1 367.2L243.7 370.8L244.3 367.2M244.8 366.3L245.3 364.1L245.8 366.3M247.0 365.1L247.6 359.8L248.3 365.1M248.4 364.7L249.0 359.7L249.6 364.7M251.1 361.8L251.4 365.8L251.7 361.8M252.5 361.4L252.8 364.3L253.1 361.4M255.0 358.6L255.3 355.5L255.7 358.6M255.8 357.5L256.4 361.3L256.9 357.5M257.3 356.9L257.6 351.9L257.9 356.9M259.7 354.3L260.2 357.2L260.6 354.3M261.4 352.4L261.8 347.4L262.3 352.4M263.0 351.5L263.5 355.6L264.0 351.5M264.2 349.9L264.7 354.1L265.3 349.9M266.5 349.7L266.8 347.4L267.1 349.7M268.3 347.4L268.7 350.3L269.1 347.4M270.2 347.6L270.9 344.0L271.5 347.6M272.0 344.7L272.4 349.7L272.8 344.7M274.6 342.6L274.9 337.6L275.3 342.6M277.0 341.0L277.4 346.4L277.8 341.0M279.0 339.3L279.6 341.5L280.3 339.3M280.3 337.2L280.9 340.9L281.6 337.2M282.4 337.5L283.1 342.7L283.8 337.5M285.2 335.0L285.6 338.1L286.0 335.0M287.2 333.3L287.6 338.1L288.1 333.3M289.4 331.7L289.8 335.5L290.1 331.7M291.1 329.7L291.8 325.6L292.5 329.7M293.6 329.6L294.0 325.6L294.5 329.6M295.1 328.1L295.7 332.9L296.4 328.1M296.7 327.4L297.2 324.1L297.7 327.4M298.4 327.5L298.7 331.3L299.0 327.5M299.4 326.2L299.9 324.0L300.4 326.2M301.2 325.4L301.7 323.2L302.2 325.4M302.1 324.5L302.7 327.3L303.4 324.5M303.3 324.2L303.8 328.1L304.4 324.2M305.7 324.2L306.1 327.3L306.5 324.2M307.9 321.4L308.3 326.3L308.8 321.4M310.0 319.5L310.6 322.4L311.2 319.5M312.0 319.2L312.6 315.7L313.3 319.2M313.3 319.4L313.9 314.2L314.5 319.4M314.7 318.1L315.1 314.3L315.6 318.1M315.7 317.2L316.3 322.3L317.0 317.2M318.3 316.2L318.7 318.4L319.2 316.2M319.4 316.4L319.8 312.9L320.3 316.4M321.0 315.6L321.5 311.5L322.1 315.6M322.6 315.9L323.0 320.6L323.4 315.9M342.4 459.7L343.0 455.9L343.6 459.7M344.2 459.9L344.6 456.2L345.0 459.9M346.3 460.5L346.6 463.5L347.0 460.5M348.2 459.8L348.5 463.0L348.9 459.8M350.3 459.2L350.7 453.9L351.1 459.2M352.2 459.4L352.6 464.5L353.0 459.4M354.0 459.5L354.3 463.3L354.7 459.5M355.3 460.1L355.7 465.6L356.1 460.1M356.3 459.7L356.8 462.6L357.3 459.7M357.8 460.0L358.3 456.9L358.8 460.0M358.9 460.6L359.6 464.1L360.2 460.6M360.0 458.9L360.7 455.0L361.4 458.9M362.4 459.7L362.8 462.6L363.3 459.7M363.6 459.4L363.9 454.1L364.3 459.4M365.6 459.6L365.9 462.6L366.2 459.6M366.9 460.2L367.5 455.1L368.2 460.2M368.3 459.0L369.0 454.0L369.6 459.0M369.6 460.3L370.1 464.2L370.7 460.3M371.5 459.2L372.2 456.2L372.9 459.2M373.9 460.4L374.3 463.1L374.6 460.4M375.5 460.5L376.0 464.7L376.6 460.5M377.1 459.8L377.7 465.1L378.3 459.8M378.8 460.2L379.4 462.5L380.0 460.2M380.4 460.5L381.1 465.6L381.8 460.5M382.1 459.7L382.4 462.6L382.8 459.7M383.2 459.9L383.7 464.1L384.2 459.9M384.3 459.8L384.7 456.0L385.1 459.8M386.1 459.0L386.8 455.4L387.5 459.0M387.1 460.9L387.8 457.0L388.5 460.9M389.6 461.4L390.0 466.4L390.4 461.4M391.4 460.3L391.7 454.9L392.0 460.3M393.5 460.0L393.9 456.6L394.3 460.0M394.9 461.4L395.5 457.3L396.2 461.4M395.8 461.5L396.5 464.5L397.1 461.5M397.5 460.5L398.0 457.6L398.6 460.5M398.6 459.7L399.1 462.6L399.6 459.7M401.0 462.5L401.4 459.0L401.8 462.5M402.3 461.5L402.6 464.4L403.0 461.5M404.4 461.4L404.9 465.0L405.3 461.4M406.3 461.1L407.0 456.9L407.6 461.1M407.5 462.1L408.0 465.5L408.5 462.1M409.3 460.8L409.8 456.1L410.3 460.8M411.2 461.1L411.8 465.3L412.4 461.1M412.8 462.6L413.3 457.3L413.8 462.6M414.8 460.9L415.3 465.5L415.8 460.9M416.4 461.6L416.8 459.2L417.2 461.6M417.3 461.5L417.7 457.7L418.2 461.5M418.8 461.4L419.4 457.4L419.9 461.4M420.7 462.0L421.3 467.1L422.0 462.0M421.7 462.8L422.3 467.1L422.9 462.8M423.2 462.2L423.7 458.3L424.2 462.2M425.3 463.1L425.9 459.9L426.6 463.1M426.9 463.1L427.3 459.1L427.7 463.1M428.5 462.1L428.8 466.1L429.1 462.1M430.2 461.6L430.6 466.9L430.9 461.6M431.4 462.5L431.7 458.0L432.1 462.5M432.6 463.0L433.0 466.8L433.4 463.0M433.5 461.3L434.0 457.3L434.5 461.3M434.4 462.1L435.0 465.6L435.7 462.1M436.7 463.0L437.2 467.4L437.7 463.0M437.7 461.0L438.2 463.7L438.6 461.0M439.0 463.8L439.5 469.2L440.1 463.8M439.9 461.6L440.5 456.8L441.1 461.6M441.4 462.2L441.8 457.4L442.1 462.2M443.5 461.8L443.9 465.1L444.4 461.8M444.8 462.5L445.3 459.6L445.8 462.5M446.0 462.5L446.6 458.1L447.2 462.5M447.9 462.6L448.6 466.8L449.2 462.6M449.1 462.4L449.7 460.0L450.4 462.4M450.3 462.6L451.0 457.4L451.7 462.6M452.8 463.8L453.2 460.4L453.7 463.8M454.1 463.8L454.5 466.9L455.0 463.8M456.3 461.9L456.8 465.9L457.2 461.9M457.5 463.1L457.8 460.3L458.1 463.1M459.5 463.1L460.0 457.8L460.6 463.1M461.7 462.5L462.3 459.4L462.9 462.5M126.1 477.0L126.5 472.4L126.9 477.0M128.4 473.0L128.9 466.3L129.5 473.0M131.0 469.6L131.3 462.4L131.7 469.6M133.3 468.1L133.6 473.4L134.0 468.1M135.1 464.6L135.6 468.5L136.1 464.6M137.3 461.0L137.8 456.2L138.3 461.0M139.4 459.0L139.9 463.3L140.4 459.0M140.8 456.0L141.2 450.0L141.6 456.0M141.8 453.9L142.5 459.0L143.1 453.9M143.7 452.8L144.3 447.5L144.9 452.8M144.9 451.1L145.4 446.0L145.9 451.1M146.6 449.5L147.3 456.5L148.0 449.5M149.1 446.7L149.8 443.1L150.5 446.7M150.8 445.5L151.1 449.8L151.5 445.5M152.2 443.7L152.7 449.2L153.1 443.7M154.3 440.9L154.9 437.0L155.5 440.9M156.4 438.6L157.0 443.7L157.6 438.6M159.1 436.7L159.5 439.5L159.9 436.7M160.5 435.5L161.0 432.3L161.4 435.5M162.0 433.8L162.3 437.4L162.6 433.8M164.0 431.3L164.5 434.6L165.0 431.3M165.0 430.4L165.5 433.7L166.0 430.4M167.5 427.7L167.9 425.1L168.4 427.7M169.2 426.4L169.6 428.9L170.0 426.4M171.9 423.4L172.2 426.7L172.5 423.4M173.1 422.8L173.7 425.9L174.2 422.8M175.9 420.7L176.2 425.6L176.6 420.7M176.7 417.2L177.4 420.0L178.0 417.2M178.5 417.3L179.1 413.8L179.7 417.3M180.4 416.2L181.1 421.4L181.7 416.2M182.0 414.7L182.5 420.1L182.9 414.7M184.3 412.1L184.9 408.2L185.5 412.1M186.8 410.4L187.1 414.8L187.5 410.4M188.7 409.4L189.1 406.7L189.5 409.4M190.5 406.8L191.1 403.1L191.8 406.8M192.4 406.7L192.7 402.1L193.0 406.7M194.6 405.6L195.1 400.3L195.7 405.6M196.1 406.0L196.7 410.2L197.2 406.0M198.6 404.9L199.2 401.6L199.7 404.9M200.2 403.3L200.7 400.2L201.1 403.3M202.3 404.1L202.8 408.6L203.4 404.1M204.2 403.9L204.6 406.9L205.1 403.9M205.8 403.0L206.3 405.3L206.9 403.0M207.2 401.8L207.7 405.7L208.2 401.8M208.5 401.5L209.1 396.2L209.7 401.5M209.9 402.8L210.4 400.5L210.9 402.8M210.8 401.1L211.4 396.3L212.0 401.1M212.7 401.8L213.3 404.8L214.0 401.8M214.4 400.3L214.7 396.4L215.1 400.3M216.2 400.8L216.8 405.4L217.4 400.8M218.5 399.2L219.2 394.3L219.9 399.2M221.0 399.7L221.4 397.0L221.9 399.7M222.2 399.8L222.5 402.6L222.9 399.8M223.2 399.0L223.7 393.9L224.3 399.0M225.2 397.8L225.6 400.8L226.1 397.8M227.7 398.3L228.1 393.1L228.6 398.3M228.7 398.1L229.2 402.5L229.8 398.1M231.0 397.6L231.5 393.2L232.0 397.6M232.8 395.7L233.3 390.2L233.8 395.7M235.0 396.0L235.7 399.7L236.4 396.0M237.6 395.0L238.0 392.7L238.4 395.0M239.6 393.8L240.0 391.5L240.4 393.8M240.9 393.1L241.6 396.8L242.2 393.1M242.3 393.9L242.9 397.2L243.4 393.9M244.0 392.9L244.6 395.8L245.2 392.9M245.8 392.5L246.3 397.2L246.7 392.5M247.1 391.3L247.4 394.5L247.8 391.3M249.0 391.7L249.3 394.1L249.6 391.7M249.9 390.6L250.5 385.2L251.1 390.6M252.1 389.6L252.7 394.3L253.3 389.6M253.8 389.6L254.1 384.4L254.5 389.6M255.4 390.4L255.9 395.5L256.4 390.4M257.2 388.5L257.5 384.6L257.8 388.5M258.6 387.4L259.1 382.8L259.6 387.4M260.8 387.8L261.2 385.5L261.5 387.8M262.8 387.1L263.3 382.7L263.9 387.1M264.1 387.4L264.4 384.1L264.7 387.4M265.5 385.6L265.9 380.4L266.2 385.6M267.5 385.3L267.8 379.9L268.1 385.3M269.5 385.6L269.9 381.2L270.3 385.6M271.4 385.3L272.0 381.4L272.6 385.3M272.8 385.2L273.3 387.7L273.7 385.2M274.5 383.8L274.9 378.5L275.3 383.8M276.7 382.9L277.3 379.8L277.9 382.9M278.9 383.4L279.5 385.4L280.1 383.4M280.9 382.0L281.6 385.3L282.2 382.0M281.9 382.6L282.6 377.8L283.3 382.6M284.8 382.2L285.1 387.1L285.4 382.2M286.5 382.8L286.8 385.8L287.2 382.8M288.2 381.6L288.7 376.8L289.3 381.6M290.2 381.6L290.6 376.6L291.0 381.6M291.6 381.1L292.1 383.9L292.7 381.1M293.8 380.9L294.4 383.7L295.0 380.9M295.6 381.0L296.0 377.2L296.5 381.0M297.3 380.5L297.7 385.4L298.1 380.5M299.6 379.1L299.9 374.8L300.2 379.1M301.8 379.3L302.4 374.1L303.0 379.3M303.6 378.7L304.3 374.2L304.9 378.7M305.0 379.2L305.6 383.9L306.1 379.2M307.4 377.7L308.0 375.4L308.5 377.7M309.2 379.6L309.7 384.2L310.1 379.6M310.4 378.3L310.9 382.5L311.4 378.3M311.3 378.4L311.9 375.7L312.5 378.4M312.8 377.7L313.3 382.0L313.8 377.7M315.0 376.1L315.3 372.1L315.6 376.1M316.9 377.8L317.5 380.7L318.2 377.8M319.5 378.8L319.9 376.2L320.4 378.8M322.1 379.0L322.4 374.3L322.7 379.0M343.4 446.1L343.9 442.2L344.4 446.1M345.4 446.3L345.9 451.3L346.5 446.3M347.7 446.8L348.2 442.6L348.7 446.8M348.9 445.1L349.2 442.8L349.6 445.1M350.4 445.5L350.9 448.0L351.4 445.5M352.1 447.1L352.5 452.4L352.9 447.1M352.9 445.3L353.5 442.6L354.1 445.3M355.2 446.0L355.6 450.5L356.1 446.0M356.8 446.6L357.5 449.8L358.2 446.6M358.3 446.5L358.9 441.1L359.5 446.5M359.7 446.6L360.1 443.3L360.5 446.6M361.1 446.1L361.8 441.8L362.4 446.1M362.3 446.0L363.0 443.0L363.7 446.0M364.6 445.8L365.2 449.3L365.8 445.8M366.2 446.2L366.9 451.0L367.5 446.2M368.2 447.2L368.8 450.8L369.4 447.2M369.6 446.3L370.3 442.3L371.0 446.3M371.3 447.3L371.8 451.8L372.4 447.3M372.6 446.4L373.1 443.9L373.6 446.4M374.6 446.5L375.1 451.9L375.6 446.5M376.3 446.1L376.6 448.7L377.0 446.1M377.0 445.8L377.6 441.9L378.3 445.8M378.3 445.8L378.9 451.3L379.5 445.8M380.8 447.1L381.2 443.6L381.6 447.1M381.9 446.2L382.4 441.4L382.8 446.2M383.0 446.7L383.4 442.7L383.8 446.7M384.8 446.8L385.5 444.2L386.2 446.8M387.2 446.6L387.7 442.8L388.2 446.6M388.7 447.1L389.2 452.4L389.7 447.1M390.3 446.5L390.9 443.6L391.4 446.5M392.5 446.4L393.0 441.1L393.5 446.4M394.0 446.6L394.5 441.3L395.1 446.6M395.8 447.1L396.4 443.5L397.0 447.1M397.5 446.8L398.2 441.8L398.8 446.8M399.3 445.9L399.9 443.4L400.5 445.9M400.2 448.0L400.8 443.6L401.5 448.0M401.8 447.7L402.3 453.0L402.7 447.7M403.3 447.1L403.7 442.1L404.0 447.1M404.3 448.1L405.0 450.7L405.7 448.1M406.1 447.7L406.7 444.2L407.4 447.7M407.4 447.2L408.0 451.3L408.7 447.2M408.5 448.3L409.0 451.0L409.5 448.3M409.6 447.6L410.1 444.1L410.6 447.6M410.9 447.4L411.5 443.7L412.1 447.4M412.0 448.3L412.6 442.9L413.2 448.3M414.1 447.3L414.7 449.9L415.3 447.3M415.1 447.9L415.6 445.4L416.2 447.9M417.3 448.3L417.6 444.0L417.9 448.3M418.8 447.4L419.2 450.6L419.6 447.4M421.1 446.8L421.4 449.4L421.7 446.8M423.1 448.8L423.6 451.7L424.0 448.8M424.6 447.8L425.3 452.5L425.9 447.8M426.8 448.0L427.3 453.1L427.8 448.0M429.0 447.4L429.4 452.1L429.8 447.4M430.5 448.1L431.2 452.1L431.9 448.1M432.3 447.2L433.0 441.8L433.6 447.2M434.1 447.9L434.6 443.7L435.1 447.9M435.1 448.1L435.6 444.8L436.1 448.1M436.4 448.5L437.0 443.4L437.6 448.5M437.5 448.9L438.0 451.5L438.5 448.9M439.6 448.1L440.2 444.8L440.7 448.1M441.6 449.4L442.1 452.2L442.6 449.4M443.4 448.6L443.7 446.3L444.0 448.6M444.7 449.9L445.3 452.2L445.9 449.9M445.7 448.8L446.2 443.9L446.7 448.8M446.6 449.0L447.1 453.0L447.6 449.0M447.8 448.5L448.4 443.8L448.9 448.5M449.1 448.2L449.7 451.5L450.2 448.2M451.2 448.5L451.7 451.2L452.2 448.5M453.2 448.5L453.5 452.8L453.9 448.5M454.6 449.3L454.9 454.4L455.2 449.3M456.0 449.6L456.4 445.5L456.8 449.6M457.8 447.9L458.4 444.2L458.9 447.9M459.0 449.4L459.3 452.4L459.7 449.4M459.8 448.3L460.2 444.8L460.7 448.3M461.8 448.8L462.3 446.4L462.8 448.8M125.9 476.6L126.5 480.7L127.1 476.6M128.7 473.7L129.1 481.1L129.4 473.7M130.6 471.8L131.0 478.9L131.3 471.8M132.4 470.3L132.8 474.6L133.1 470.3M133.5 467.6L134.1 464.4L134.7 467.6M134.8 466.7L135.3 473.0L135.9 466.7M136.5 465.1L136.9 458.4L137.3 465.1M137.5 463.4L138.0 456.6L138.4 463.4M138.8 461.2L139.3 464.6L139.9 461.2M140.1 460.0L140.7 467.1L141.2 460.0M142.5 456.6L143.1 449.4L143.7 456.6M144.9 454.6L145.4 460.9L145.8 454.6M147.1 454.9L147.8 459.3L148.4 454.9M149.5 453.0L149.9 459.0L150.4 453.0M151.3 452.4L151.6 449.0L151.9 452.4M152.3 453.3L152.7 457.9L153.1 453.3M153.8 452.4L154.4 449.0L155.1 452.4M155.6 451.8L156.0 455.9L156.4 451.8M157.2 451.9L157.6 448.2L158.0 451.9M159.1 450.8L159.7 445.3L160.3 450.8M160.2 450.4L160.8 455.3L161.5 450.4M162.1 450.7L162.7 448.2L163.3 450.7M164.7 450.2L165.2 446.1L165.8 450.2M167.1 449.9L167.7 453.6L168.2 449.9M169.1 448.7L169.6 454.1L170.2 448.7M171.4 447.3L171.9 450.5L172.4 447.3M173.7 446.1L174.0 442.6L174.3 446.1M176.1 444.5L176.6 448.7L177.0 444.5M177.3 444.2L177.8 447.4L178.3 444.2M179.7 443.5L180.3 439.5L181.0 443.5M180.9 441.7L181.6 436.4L182.3 441.7M182.6 442.0L183.2 447.3L183.8 442.0M183.9 440.3L184.3 445.3L184.6 440.3M185.3 439.1L185.9 436.2L186.4 439.1M186.6 438.9L186.9 433.5L187.3 438.9M188.0 437.9L188.3 442.1L188.7 437.9M189.8 436.6L190.3 434.3L190.7 436.6M191.3 434.9L191.9 432.3L192.5 434.9M193.5 433.2L193.9 428.9L194.4 433.2M195.2 432.7L195.5 435.5L195.9 432.7M196.6 432.1L197.0 428.1L197.4 432.1M198.6 430.6L199.3 433.1L199.9 430.6M200.3 429.1L200.8 425.3L201.4 429.1M201.3 430.4L202.0 427.4L202.6 430.4M202.6 428.7L203.2 431.7L203.8 428.7M204.1 428.5L204.7 432.5L205.2 428.5M206.0 427.5L206.7 430.6L207.4 427.5M208.6 426.2L209.2 430.5L209.7 426.2M211.0 424.7L211.4 430.1L211.8 424.7M212.6 424.9L213.1 429.7L213.6 424.9M213.9 424.2L214.6 419.9L215.2 424.2M215.9 423.1L216.3 426.7L216.6 423.1M217.1 422.2L217.5 417.8L217.9 422.2M219.2 421.8L219.8 416.9L220.3 421.8M221.7 421.8L222.0 424.6L222.4 421.8M224.0 418.3L224.6 415.8L225.2 418.3M226.2 419.6L226.8 417.5L227.5 419.6M228.8 417.5L229.1 422.7L229.4 417.5M231.1 416.1L231.5 413.3L232.0 416.1M233.1 416.5L233.6 419.5L234.1 416.5M235.4 415.7L236.0 420.7L236.6 415.7M237.6 414.9L238.0 410.9L238.3 414.9M239.6 412.8L240.1 417.9L240.6 412.8M242.0 412.2L242.5 409.7L243.0 412.2M244.0 413.0L244.6 417.2L245.2 413.0M245.5 411.6L246.1 415.0L246.6 411.6M247.9 411.7L248.6 416.9L249.2 411.7M250.1 411.3L250.6 415.3L251.1 411.3M251.1 410.7L251.8 406.2L252.4 410.7M252.7 410.8L253.2 407.8L253.8 410.8M253.6 410.5L254.3 408.0L254.9 410.5M255.0 410.2L255.4 406.5L255.7 410.2M256.7 409.5L257.1 407.1L257.6 409.5M257.8 410.0L258.2 404.5L258.6 410.0M260.1 408.3L260.5 412.0L260.8 408.3M262.3 408.3L262.8 404.8L263.3 408.3M263.8 408.3L264.3 412.9L264.7 408.3M265.4 407.1L265.7 411.9L266.0 407.1M267.5 407.6L268.2 412.1L268.9 407.6M270.0 405.4L270.5 410.3L270.9 405.4M271.6 406.4L272.0 402.2L272.3 406.4M272.6 405.2L273.3 401.3L274.0 405.2M275.4 406.4L275.9 410.9L276.4 406.4M277.9 404.4L278.5 406.9L279.0 404.4M279.6 403.5L280.2 400.6L280.9 403.5M280.9 403.9L281.2 408.2L281.6 403.9M282.4 403.2L283.1 407.6L283.8 403.2M284.2 403.4L284.7 407.8L285.1 403.4M285.8 402.5L286.2 399.9L286.6 402.5M288.3 402.5L288.7 405.0L289.2 402.5M290.0 403.1L290.4 399.6L290.8 403.1M291.0 402.7L291.7 400.4L292.4 402.7M293.0 401.6L293.4 398.4L293.7 401.6M295.5 402.1L295.8 405.1L296.2 402.1M297.3 401.2L297.9 397.4L298.4 401.2M299.2 401.0L299.6 397.7L300.1 401.0M301.0 401.3L301.5 404.1L301.9 401.3M302.4 402.2L302.7 405.9L303.0 402.2M303.7 401.3L304.1 396.6L304.5 401.3M304.6 401.3L305.3 397.6L306.0 401.3M305.9 400.7L306.4 397.9L306.8 400.7M308.0 401.1L308.5 403.5L308.9 401.1M309.0 400.3L309.7 404.9L310.3 400.3M311.6 399.4L312.1 394.6L312.6 399.4M313.7 400.0L314.3 404.4L314.8 400.0M315.7 399.6L316.1 396.7L316.4 399.6M317.3 399.8L317.9 403.4L318.4 399.8M319.2 398.3L319.6 395.9L320.0 398.3M343.2 470.9L343.9 466.5L344.6 470.9M344.7 470.3L345.1 466.1L345.5 470.3M345.7 470.3L346.1 475.5L346.4 470.3M347.5 470.6L348.1 466.6L348.8 470.6M348.7 470.7L349.2 468.1L349.8 470.7M350.0 470.7L350.3 467.7L350.6 470.7M351.8 472.6L352.1 467.2L352.5 472.6M353.4 471.3L354.0 467.3L354.6 471.3M355.3 471.6L355.9 466.8L356.4 471.6M356.4 472.1L356.9 468.9L357.4 472.1M357.5 471.2L358.0 476.6L358.5 471.2M359.4 473.1L359.8 476.1L360.1 473.1M360.9 472.3L361.2 476.8L361.5 472.3M362.2 471.2L362.5 475.2L362.8 471.2M364.2 471.1L364.6 468.1L365.1 471.1M365.6 472.8L366.0 477.0L366.4 472.8M367.1 471.5L367.7 466.3L368.4 471.5M369.1 471.2L369.7 467.4L370.3 471.2M370.5 473.3L371.0 468.3L371.5 473.3M371.6 471.0L372.0 466.5L372.4 471.0M373.6 470.4L374.0 465.8L374.3 470.4M374.9 472.7L375.3 475.2L375.7 472.7M376.0 471.0L376.5 468.1L376.9 471.0M378.2 473.8L378.6 476.9L379.0 473.8M379.6 472.7L379.9 478.1L380.3 472.7M381.7 472.1L382.2 474.6L382.8 472.1M383.6 473.3L384.3 477.7L385.0 473.3M385.8 472.1L386.2 469.7L386.6 472.1M388.1 472.4L388.4 476.1L388.7 472.4M389.8 474.5L390.5 471.8L391.2 474.5M391.6 473.5L392.2 470.0L392.9 473.5M394.0 472.9L394.5 469.7L394.9 472.9M395.0 473.3L395.5 468.0L396.1 473.3M396.1 474.4L396.5 477.2L396.8 474.4M397.5 473.3L398.0 476.3L398.4 473.3M398.9 474.2L399.3 477.0L399.7 474.2M400.0 473.2L400.4 469.9L400.8 473.2M401.8 473.8L402.3 469.1L402.9 473.8M403.3 473.7L403.9 478.4L404.5 473.7M405.7 473.7L406.0 476.4L406.3 473.7M407.0 473.4L407.6 470.2L408.2 473.4M409.0 473.9L409.6 468.5L410.2 473.9M410.0 474.4L410.6 476.7L411.2 474.4M412.2 474.0L412.9 479.3L413.5 474.0M414.4 473.4L414.7 470.0L415.1 473.4M416.2 473.9L416.6 476.7L416.9 473.9M417.1 474.6L417.6 471.9L418.1 474.6M418.9 474.6L419.4 477.1L419.9 474.6M420.7 474.5L421.2 477.1L421.6 474.5M422.1 473.7L422.5 477.7L423.0 473.7M423.5 474.4L423.8 471.6L424.2 474.4M425.7 476.2L426.0 472.5L426.4 476.2M427.0 474.5L427.5 479.5L428.0 474.5M429.4 474.5L429.7 478.6L430.1 474.5M431.0 475.0L431.5 478.8L432.0 475.0M432.5 475.3L432.8 472.1L433.2 475.3M433.9 475.4L434.2 470.2L434.5 475.4M435.8 476.0L436.2 479.5L436.5 476.0M437.9 475.3L438.2 472.6L438.5 475.3M439.9 475.0L440.2 469.8L440.5 475.0M441.2 475.1L441.6 470.9L442.0 475.1M442.9 475.2L443.4 470.7L443.9 475.2M443.8 475.7L444.3 471.4L444.9 475.7M445.6 476.3L446.1 478.9L446.5 476.3M447.2 476.6L447.6 481.5L447.9 476.6M449.0 476.6L449.5 472.6L449.9 476.6M450.9 476.5L451.4 481.1L451.9 476.5M452.1 475.8L452.5 480.7L452.9 475.8M454.4 476.4L454.8 471.5L455.1 476.4M456.4 476.4L456.8 471.6L457.3 476.4M458.2 476.7L458.7 481.7L459.3 476.7M460.3 476.1L460.9 479.2L461.5 476.1" />
</g>
<g class="dr">
<path d="M294.2 18.0L294.7 17.8L295.1 40.0L295.4 59.7" />
<path d="M294.2 82.7L295.6 83.0L296.4 135.5L297.2 134.5L297.8 130.5" />
<path d="M294.4 139.0L295.2 141.5L296.8 157.8L298.7 160.4" />
<path d="M324.5 317.1L325.5 316.0L333.4 390.0L337.2 424.0L341.5 459.5" />
<path d="M323.9 382.1L327.5 390.0L329.5 395.4L336.4 424.3L342.4 445.8" />
<path d="M322.5 399.3L324.5 402.0L327.5 415.2L339.4 468.4L342.4 471.0" />
</g>
<g class="sans" font-size="12" text-anchor="end">
<text x="51.4" y="11.0">20</text>
<text x="51.4" y="56.5">15</text>
<text x="51.4" y="103.3">10</text>
<text x="51.4" y="149.6">5</text>
<text x="51.4" y="195.7">0</text>
<text x="51.4" y="299.8">80</text>
<text x="51.4" y="345.8">60</text>
<text x="51.4" y="391.4">40</text>
<text x="51.4" y="437.4">20</text>
<text x="51.4" y="482.8">0</text>
</g>
<g class="sans" font-size="12" text-anchor="middle">
<text x="120.6" y="555.3">0</text>
<text x="170.8" y="555.3">100</text>
<text x="217" y="555.3">200</text>
<text x="262.9" y="555.3">300</text>
<text x="308.8" y="555.3">400</text>
<text x="358.1" y="555.3">500</text>
<text x="404.1" y="555.3">600</text>
<text x="451" y="555.3">700</text>
<text x="494.3" y="555.3">800</text>
</g>
<text class="sans" font-size="13.1" x="219.6" y="598.5" textLength="93.4" lengthAdjust="spacingAndGlyphs">Time (seconds)</text>
<text class="sans" font-size="13.1" transform="translate(13.3 312.6) rotate(-90)" textLength="102.2" lengthAdjust="spacingAndGlyphs">Resonance units</text>
<text class="sans" font-size="24" transform="translate(103.2 37.8) scale(0.95 1)" style="stroke-width:0.35">A</text>
<text class="sans" font-size="24.7" x="96.7" y="327.7" style="stroke-width:0.45">B</text>
<g class="serif" font-size="12.7">
<text x="473" y="140.2">7<tspan dx="2.1">&#160;&#956;M</tspan></text>
<text x="473" y="157.9">3.5 &#956;M</text>
<text x="472.8" y="175">1.75 &#956;M</text>
<text x="476.4" y="448">3.5 &#956;M</text>
<text x="477" y="466.7">7<tspan dx="2.1">&#160;&#956;M</tspan></text>
<text x="475.6" y="483.1">1.75 &#956;M</text>
</g>
</svg>
</body></html>
